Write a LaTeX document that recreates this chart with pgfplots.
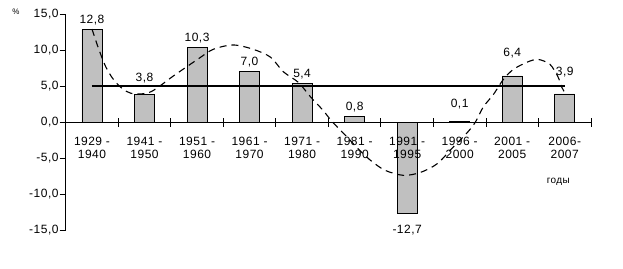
\documentclass[border=0pt]{standalone}
\usepackage{fontspec}
\setmainfont[LetterSpace=4]{Liberation Sans}
\usepackage{pgfplots}
\usepackage{pgfplotstable}
\pgfplotsset{compat=1.18}
\definecolor{bargray}{RGB}{192,192,192}
\pgfplotstableread{
x y off
0 12.8 0
1 3.8 7
2 10.3 0
3 7.0 0
4 5.4 0
5 0.8 0
6 -12.7 -7
7 0.1 8
8 6.4 14
9 3.9 13
}\bars
\begin{document}
\fontsize{12}{13}\selectfont
\begin{tikzpicture}
\begin{axis}[
  scale only axis, width=525pt, height=216pt,
  xmin=-0.5, xmax=9.5, ymin=-15, ymax=15,
  axis y line*=left, axis x line*=middle,
  axis on top,
  clip=false,
  ytick={-15,-10,...,15},
  yticklabel={\pgfmathprintnumber[fixed,fixed zerofill,precision=1,use comma,assume math mode=true]{\tick}},
  xtick={0,...,9},
  xticklabels={{1929 -\\1940},{1941 -\\1950},{1951 -\\1960},{1961 -\\1970},{1971 -\\1980},{1981 -\\1990},{1991 -\\1995},{1996 -\\2000},{2001 -\\2005},{2006-\\2007}},
  x tick label style={align=center, yshift=-8pt},
  major x tick style={draw=none},
  minor xtick={-0.5,0.5,...,9.5},
  tick align=center,
  minor tick length=9pt,
  major tick length=6pt,
  major y tick style={xshift=-3pt},
  tick style={black, line width=0.8pt},
  axis line style={black, line width=0.8pt},
]
\addplot[ybar, bar width=20pt, fill=bargray, draw=black, line width=0.8pt,
  visualization depends on={\thisrow{off}\as\off},
  nodes near coords={\pgfmathprintnumber[fixed,fixed zerofill,precision=1,use comma,assume math mode=true]{\pgfplotspointmeta}},
  nodes near coords align=vertical,
  every node near coord/.append style={yshift=\off pt}]
  table[x=x, y=y] {\bars};
\addplot[black, line width=2.2pt] coordinates {(0,5) (9,5)};
\addplot[black, line width=1.1pt, dash pattern=on 7pt off 5pt, smooth] coordinates {
 (0,12.9) (0.13,10.1) (0.26,7.7) (0.39,6.1) (0.52,5.0) (0.6,4.5) (0.74,4.0) (0.93,3.9) (1.12,4.2) (1.31,5.1) (1.55,6.4) (2.01,8.7) (2.31,10.1) (2.69,10.7) (3.07,10.1) (3.40,9.0) (3.64,7.0) (3.93,5.5) (4.16,3.5) (4.39,1.7) (4.58,0) (4.86,-2.1) (5.05,-3.6) (5.30,-5.3) (5.58,-6.7) (5.93,-7.4) (6.25,-7.0) (6.57,-5.8) (6.86,-3.6) (7.14,-1.5) (7.3,0) (7.45,2.1) (7.64,3.8) (7.83,5.9) (8.02,7.3) (8.28,8.3) (8.49,8.7) (8.72,8.0) (8.87,6.3) (8.94,4.9) (9.0,4.1)};
\node[font=\fontsize{8}{9}\selectfont] at (axis cs:-1.45,15.3) {\%};
\node[font=\fontsize{10}{12}\selectfont] at (axis cs:8.88,-8.33) {годы};
\end{axis}
\pgfresetboundingbox
\path[use as bounding box] ([shift={(-65.7pt,-38pt)}]current axis.south west) rectangle ([shift={(32pt,14pt)}]current axis.north east);
\end{tikzpicture}
\end{document}
